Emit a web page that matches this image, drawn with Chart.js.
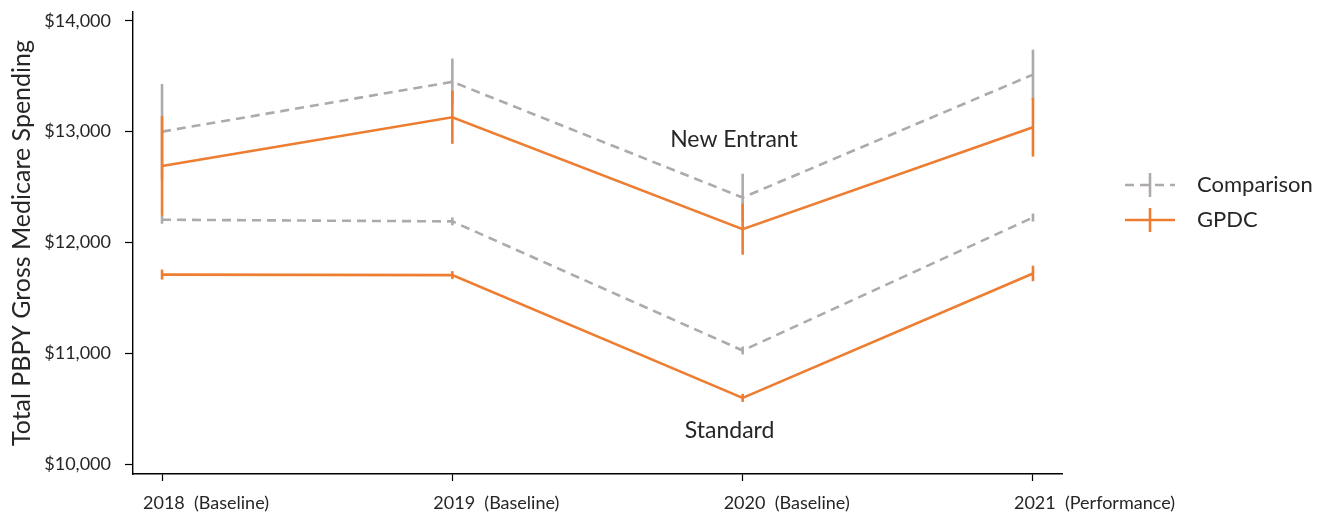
<!DOCTYPE html>
<html>
<head>
<meta charset="utf-8">
<script src="https://cdn.jsdelivr.net/npm/chart.js@4.4.1/dist/chart.umd.min.js"></script>
<style>
  html, body { margin: 0; padding: 0; background: #fff; }
  #wrap { width: 1327px; height: 516px; position: relative; }
</style>
</head>
<body>
<div id="wrap"><canvas id="chart"></canvas></div>
<script>
// Year positions on the x scale and their tick labels
const yearIndex = [0, 1, 2, 3];
const yearLabels = ['2018  (Baseline)', '2019  (Baseline)', '2020  (Baseline)', '2021  (Performance)'];
const spendTicks = [10000, 11000, 12000, 13000, 14000];

// Total per-beneficiary-per-year spending, with half-widths of the error bars
const newEntrantComparison    = [13000, 13450, 12405, 13515];
const newEntrantComparisonErr = [430, 210, 215, 225];
const newEntrantGpdc          = [12690, 13130, 12120, 13040];
const newEntrantGpdcErr       = [450, 240, 230, 265];
const standardComparison      = [12205, 12190, 11025, 12225];
const standardComparisonErr   = [30, 30, 25, 30];
const standardGpdc            = [11710, 11705, 10597, 11720];
const standardGpdcErr         = [45, 30, 35, 70];

const GRAY = '#AEAAAA';
const ORANGE = '#ED7D31';
const TEXT = '#262626';
const FONT = 'Lato';
const DASH = [9, 6];

function points(values) {
  return yearIndex.map((x, i) => ({ x: x, y: values[i] }));
}

function series(label, values, errors, color, dashed, order) {
  return {
    label: label,
    data: points(values),
    errors: errors,
    borderColor: color,
    backgroundColor: color,
    borderWidth: 2.6,
    borderDash: dashed ? DASH : [],
    pointRadius: 0,
    tension: 0,
    order: order
  };
}

// Vertical error bars, drawn right after each line so later lines cover them
const errorBars = {
  id: 'errorBars',
  afterDatasetDraw(chart, args) {
    const ds = chart.data.datasets[args.index];
    if (!ds.errors) return;
    const { ctx, scales: { x, y } } = chart;
    ctx.save();
    ctx.strokeStyle = ds.borderColor;
    ctx.lineWidth = 2.6;
    ctx.setLineDash([]);
    ds.data.forEach((p, i) => {
      const px = x.getPixelForValue(p.x);
      const e = Math.max(ds.errors[i], 0);
      const top = y.getPixelForValue(p.y + e);
      const bot = y.getPixelForValue(p.y - e);
      ctx.beginPath();
      ctx.moveTo(px, Math.min(top, y.getPixelForValue(p.y) - 4));
      ctx.lineTo(px, Math.max(bot, y.getPixelForValue(p.y) + 4));
      ctx.stroke();
    });
    ctx.restore();
  }
};

// Group captions placed in data coordinates
const groupCaptions = {
  id: 'groupCaptions',
  afterDatasetsDraw(chart) {
    const { ctx, scales: { x, y } } = chart;
    ctx.save();
    ctx.fillStyle = TEXT;
    ctx.font = '23px ' + FONT;
    ctx.textAlign = 'center';
    ctx.textBaseline = 'middle';
    ctx.fillText('New Entrant', x.getPixelForValue(1.97), y.getPixelForValue(12925));
    ctx.fillText('Standard', x.getPixelForValue(1.955), y.getPixelForValue(10305));
    ctx.restore();
  }
};

// Legend to the right of the plot: line sample with an error-bar stroke
const sideLegend = {
  id: 'sideLegend',
  afterDraw(chart) {
    const { ctx, chartArea } = chart;
    const items = [
      { text: 'Comparison', color: GRAY, dash: DASH },
      { text: 'GPDC', color: ORANGE, dash: [] }
    ];
    const x0 = chartArea.right + 63;
    const lineW = 50;
    const rowH = 35;
    const y0 = 185;
    ctx.save();
    items.forEach((it, i) => {
      const cy = y0 + i * rowH;
      ctx.strokeStyle = it.color;
      ctx.lineWidth = 2.6;
      ctx.setLineDash(it.dash);
      ctx.beginPath();
      ctx.moveTo(x0, cy);
      ctx.lineTo(x0 + lineW, cy);
      ctx.stroke();
      ctx.setLineDash([]);
      ctx.beginPath();
      ctx.moveTo(x0 + lineW / 2, cy - 12);
      ctx.lineTo(x0 + lineW / 2, cy + 12);
      ctx.stroke();
      ctx.fillStyle = TEXT;
      ctx.font = '22px ' + FONT;
      ctx.textAlign = 'left';
      ctx.textBaseline = 'middle';
      ctx.fillText(it.text, x0 + lineW + 22, cy);
    });
    ctx.restore();
  }
};

new Chart(document.getElementById('chart'), {
  type: 'line',
  data: {
    datasets: [
      series('Comparison', newEntrantComparison, newEntrantComparisonErr, GRAY, true, 2),
      series('Comparison', standardComparison, standardComparisonErr, GRAY, true, 2),
      series('GPDC', newEntrantGpdc, newEntrantGpdcErr, ORANGE, false, 1),
      series('GPDC', standardGpdc, standardGpdcErr, ORANGE, false, 1)
    ]
  },
  options: {
    responsive: true,
    maintainAspectRatio: false,
    animation: false,
    layout: { padding: { top: 12, right: 265, bottom: 0, left: 0 } },
    plugins: {
      legend: { display: false },
      tooltip: { enabled: false }
    },
    scales: {
      x: {
        type: 'linear',
        min: -0.1,
        max: 3.1,
        afterBuildTicks(scale) { scale.ticks = yearIndex.map(v => ({ value: v })); },
        afterFit(scale) {
          scale.height = 42;
          scale.paddingLeft = 0;
          scale.paddingRight = 0;
        },
        grid: { drawOnChartArea: false, drawTicks: true, tickLength: 7, tickColor: '#000', tickWidth: 1.2 },
        border: { display: true, color: '#000', width: 1.4 },
        ticks: {
          autoSkip: false,
          maxRotation: 0,
          minRotation: 0,
          align: 'start',
          labelOffset: -19,
          padding: 11,
          color: TEXT,
          font: { family: FONT, size: 18 },
          callback: (v) => yearLabels[v] ?? ''
        }
      },
      y: {
        type: 'linear',
        min: 9910,
        max: 14080,
        afterBuildTicks(scale) { scale.ticks = spendTicks.map(v => ({ value: v })); },
        afterFit(scale) {
          scale.width = 133;
          scale.paddingTop = 0;
          scale.paddingBottom = 0;
        },
        grid: { drawOnChartArea: false, drawTicks: true, tickLength: 8, tickColor: '#000', tickWidth: 1.2 },
        border: { display: true, color: '#000', width: 1.4 },
        title: {
          display: true,
          text: 'Total PBPY Gross Medicare Spending',
          color: TEXT,
          font: { family: FONT, size: 25 },
          padding: { top: 7, bottom: 0 }
        },
        ticks: {
          padding: 14,
          color: TEXT,
          font: { family: FONT, size: 18 },
          callback: (v) => '$' + v.toLocaleString('en-US')
        }
      }
    }
  },
  plugins: [errorBars, groupCaptions, sideLegend]
});
</script>
</body>
</html>
